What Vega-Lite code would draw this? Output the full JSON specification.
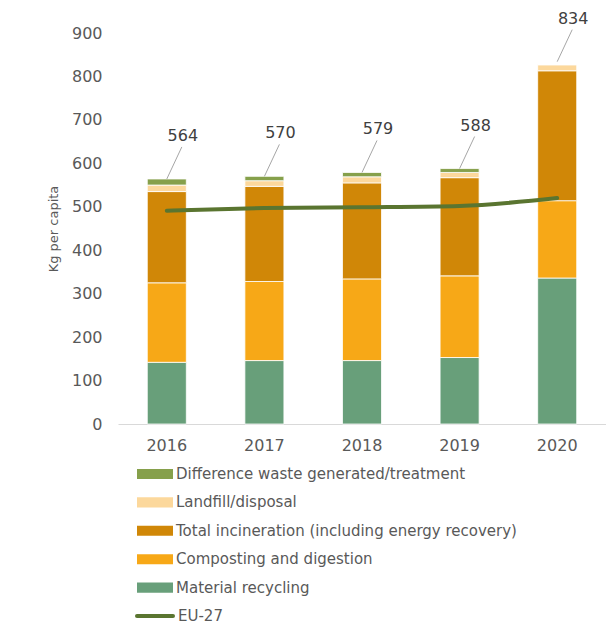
{
  "$schema": "https://vega.github.io/schema/vega-lite/v6.json",
  "autosize": {"type": "none"},
  "width": 488,
  "height": 391,
  "padding": {"left": 118, "top": 33, "right": 0, "bottom": 202},
  "background": "white",
  "config": {
    "view": {"stroke": null},
    "font": "DejaVu Sans",
    "legend": {
      "orient": "none",
      "title": null,
      "direction": "vertical",
      "padding": 0,
      "symbolSize": 1296,
      "clipHeight": 16,
      "rowPadding": 12.4,
      "labelFont": "DejaVu Sans",
      "labelFontSize": 15,
      "labelColor": "#595959",
      "labelOffset": 3,
      "labelLimit": 500
    }
  },
  "datasets": {
    "bars": [
      {"year": "2016", "category": "Material recycling", "k": 1, "value": 142},
      {"year": "2016", "category": "Composting and digestion", "k": 2, "value": 183},
      {"year": "2016", "category": "Total incineration (including energy recovery)", "k": 3, "value": 210},
      {"year": "2016", "category": "Landfill/disposal", "k": 4, "value": 15},
      {"year": "2016", "category": "Difference waste generated/treatment", "k": 5, "value": 14},
      {"year": "2017", "category": "Material recycling", "k": 1, "value": 146},
      {"year": "2017", "category": "Composting and digestion", "k": 2, "value": 182},
      {"year": "2017", "category": "Total incineration (including energy recovery)", "k": 3, "value": 219},
      {"year": "2017", "category": "Landfill/disposal", "k": 4, "value": 13},
      {"year": "2017", "category": "Difference waste generated/treatment", "k": 5, "value": 10},
      {"year": "2018", "category": "Material recycling", "k": 1, "value": 146},
      {"year": "2018", "category": "Composting and digestion", "k": 2, "value": 188},
      {"year": "2018", "category": "Total incineration (including energy recovery)", "k": 3, "value": 221},
      {"year": "2018", "category": "Landfill/disposal", "k": 4, "value": 14},
      {"year": "2018", "category": "Difference waste generated/treatment", "k": 5, "value": 10},
      {"year": "2019", "category": "Material recycling", "k": 1, "value": 153},
      {"year": "2019", "category": "Composting and digestion", "k": 2, "value": 188},
      {"year": "2019", "category": "Total incineration (including energy recovery)", "k": 3, "value": 226},
      {"year": "2019", "category": "Landfill/disposal", "k": 4, "value": 12},
      {"year": "2019", "category": "Difference waste generated/treatment", "k": 5, "value": 9},
      {"year": "2020", "category": "Material recycling", "k": 1, "value": 336},
      {"year": "2020", "category": "Composting and digestion", "k": 2, "value": 178},
      {"year": "2020", "category": "Total incineration (including energy recovery)", "k": 3, "value": 299},
      {"year": "2020", "category": "Landfill/disposal", "k": 4, "value": 14},
      {"year": "2020", "category": "Difference waste generated/treatment", "k": 5, "value": 0}
    ],
    "eu": [
      {"year": "2016", "eu": 491},
      {"year": "2017", "eu": 497},
      {"year": "2018", "eu": 499},
      {"year": "2019", "eu": 502},
      {"year": "2020", "eu": 520}
    ],
    "totals": [
      {"year": "2016", "total": 564},
      {"year": "2017", "total": 570},
      {"year": "2018", "total": 579},
      {"year": "2019", "total": 588},
      {"year": "2020", "total": 834}
    ]
  },
  "encoding": {
    "x": {
      "field": "year",
      "type": "nominal",
      "scale": {"paddingInner": 0.6, "paddingOuter": 0.3},
      "axis": {
        "title": null,
        "labelAngle": 0,
        "labelFont": "DejaVu Sans",
        "labelFontSize": 16,
        "labelColor": "#595959",
        "labelPadding": 13,
        "ticks": false,
        "domainColor": "#d9d9d9",
        "domainWidth": 1
      }
    }
  },
  "layer": [
    {
      "data": {"name": "bars"},
      "mark": {"type": "bar", "stroke": "#ffffff", "strokeWidth": 0.8},
      "encoding": {
        "y": {
          "field": "value",
          "type": "quantitative",
          "stack": "zero",
          "scale": {"domain": [0, 900], "nice": false},
          "axis": {
            "title": "Kg per capita",
            "titleFont": "DejaVu Sans",
            "titleFontSize": 13,
            "titleFontWeight": "normal",
            "titleColor": "#595959",
            "titlePadding": 11,
            "values": [0, 100, 200, 300, 400, 500, 600, 700, 800, 900],
            "labelFont": "DejaVu Sans",
            "labelFontSize": 16,
            "labelColor": "#595959",
            "labelPadding": 16,
            "ticks": false,
            "domain": false,
            "grid": false
          }
        },
        "order": {"field": "k", "type": "quantitative", "sort": "ascending"},
        "color": {
          "field": "category",
          "type": "nominal",
          "scale": {
            "domain": [
              "Difference waste generated/treatment",
              "Landfill/disposal",
              "Total incineration (including energy recovery)",
              "Composting and digestion",
              "Material recycling"
            ],
            "range": ["#86A04B", "#FCD89C", "#D08707", "#F7A817", "#689F7A"]
          },
          "legend": {
            "legendX": 19,
            "legendY": 433,
            "symbolType": "M-1,-0.28H1V0.28H-1Z",
            "symbolStrokeWidth": 0
          }
        }
      }
    },
    {
      "data": {"name": "eu"},
      "mark": {"type": "line", "strokeWidth": 4, "strokeCap": "round", "interpolate": "monotone"},
      "encoding": {
        "y": {"field": "eu", "type": "quantitative"},
        "stroke": {
          "datum": "EU-27",
          "type": "nominal",
          "scale": {"domain": ["EU-27"], "range": ["#5A7530"]},
          "legend": {
            "legendX": 17,
            "legendY": 575,
            "symbolType": "stroke",
            "symbolStrokeWidth": 4,
            "symbolStrokeColor": "#5A7530",
            "labelOffset": 3,
            "encode": {"symbols": {"update": {"strokeCap": {"value": "round"}}}}
          }
        }
      }
    },
    {
      "data": {"name": "totals"},
      "mark": {"type": "rule", "color": "#a6a6a6", "strokeWidth": 1, "x2Offset": 15, "y2Offset": -32},
      "encoding": {
        "x2": {"field": "year"},
        "y": {"field": "total", "type": "quantitative"},
        "y2": {"field": "total"}
      }
    },
    {
      "data": {"name": "totals"},
      "mark": {"type": "text", "dx": 16, "dy": -43, "fontSize": 16, "color": "#404040", "font": "DejaVu Sans"},
      "encoding": {
        "y": {"field": "total", "type": "quantitative"},
        "text": {"field": "total", "type": "quantitative"}
      }
    }
  ]
}
